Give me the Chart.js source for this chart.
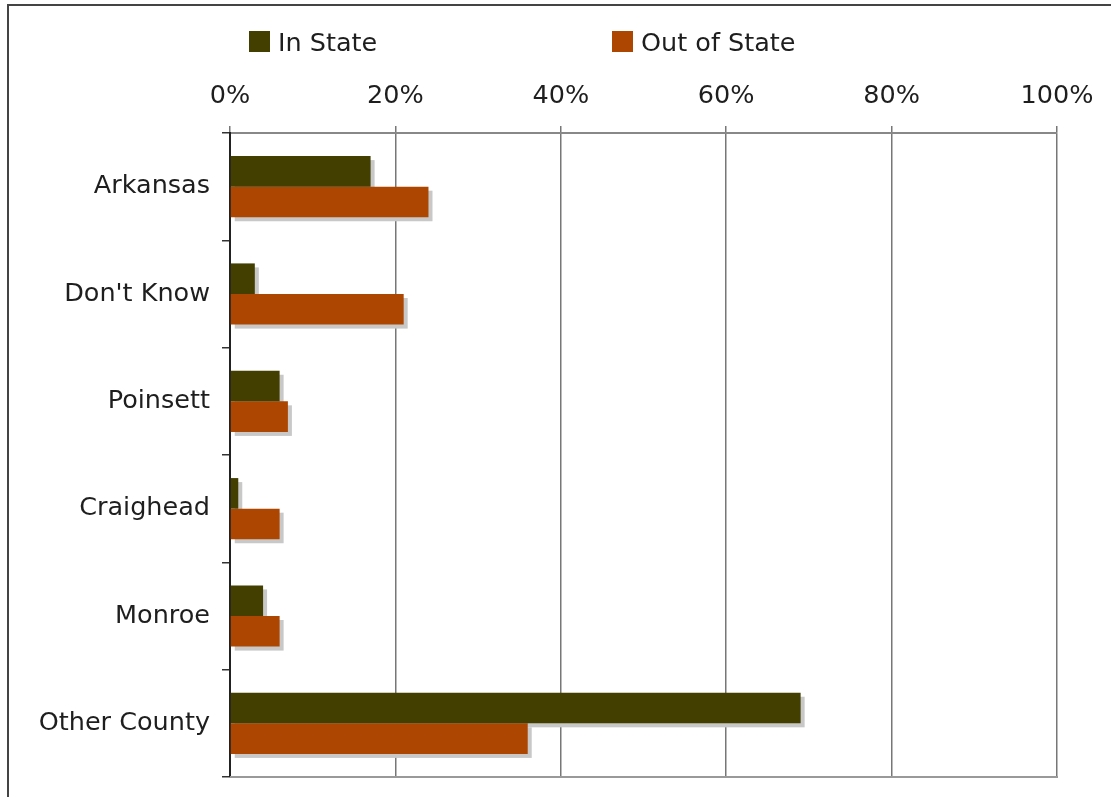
<!DOCTYPE html>
<html>
<head>
<meta charset="utf-8">
<script src="https://cdn.jsdelivr.net/npm/chart.js@4"></script>
<style>
  html, body { margin: 0; padding: 0; background: #fff; overflow: hidden; }
  .wrap { position: relative; width: 1111px; height: 797px; overflow: hidden; }
  .frame { position: absolute; left: 7px; top: 4px; width: 1200px; height: 900px;
           border-left: 2px solid #444; border-top: 2px solid #444; }
  canvas { position: absolute; left: 0; top: 0; }
  .legend { position: absolute; top: 31px; left: 0; font: 25.5px "DejaVu Sans", sans-serif; color: #1e1e1e; }
  .legend .item { position: absolute; display: flex; align-items: center; white-space: nowrap; height: 21px; }
  .legend .box { width: 21px; height: 21px; margin-right: 8px; }
</style>
</head>
<body>
<div class="wrap">
  <div class="frame"></div>
  <canvas id="chart" width="1111" height="797"></canvas>
  <div class="legend" id="legend"></div>
</div>
<script>
const categories = ['Arkansas', "Don't Know", 'Poinsett', 'Craighead', 'Monroe', 'Other County'];
const seriesNames = ['In State', 'Out of State'];
const inState = [17, 3, 6, 1, 4, 69];
const outOfState = [24, 21, 7, 6, 6, 36];
const tickValues = [0, 20, 40, 60, 80, 100];
const tickLabels = ['0%', '20%', '40%', '60%', '80%', '100%'];
const colors = ['#423f00', '#ad4600'];

const font = { family: '"DejaVu Sans", sans-serif', size: 25.5 };

// html legend, spaced like the original
const legendSpots = [249, 612];
const legendEl = document.getElementById('legend');
seriesNames.forEach((name, i) => {
  const item = document.createElement('div');
  item.className = 'item';
  item.style.left = legendSpots[i] + 'px';
  item.innerHTML = '<span class="box" style="background:' + colors[i] + '"></span><span>' + name + '</span>';
  legendEl.appendChild(item);
});

// grey drop shadow under each bar
const barShadow = {
  id: 'barShadow',
  beforeDatasetsDraw(chart) {
    const c = chart.ctx;
    c.save();
    c.fillStyle = '#c8c8c8';
    chart.data.datasets.forEach((ds, i) => {
      chart.getDatasetMeta(i).data.forEach(bar => {
        const left = Math.min(bar.base, bar.x);
        const w = Math.abs(bar.x - bar.base);
        c.fillRect(left + 4, bar.y - bar.height / 2 + 4, w, bar.height);
      });
    });
    c.restore();
  }
};

// bottom edge of the plot
const plotEdge = {
  id: 'plotEdge',
  afterDraw(chart) {
    const a = chart.chartArea;
    const c = chart.ctx;
    c.save();
    c.strokeStyle = '#999';
    c.lineWidth = 2;
    c.beginPath();
    c.moveTo(a.left, a.bottom);
    c.lineTo(a.right + 1, a.bottom);
    c.stroke();
    c.restore();
  }
};

new Chart(document.getElementById('chart'), {
  type: 'bar',
  data: {
    labels: categories,
    datasets: [
      { label: seriesNames[0], data: inState, backgroundColor: colors[0] },
      { label: seriesNames[1], data: outOfState, backgroundColor: colors[1] }
    ]
  },
  options: {
    indexAxis: 'y',
    responsive: false,
    animation: false,
    categoryPercentage: 0.57,
    barPercentage: 1.0,
    layout: { padding: { top: 73, right: 54, bottom: 20, left: 0 } },
    plugins: {
      legend: { display: false },
      tooltip: { enabled: false }
    },
    scales: {
      x: {
        position: 'top',
        min: 0,
        max: 100,
        afterBuildTicks: scale => { scale.ticks = tickValues.map(v => ({ value: v })); },
        afterFit: scale => { scale.height = 60; },
        ticks: {
          font: font,
          color: '#1e1e1e',
          padding: 14,
          callback: (v, i) => tickLabels[i]
        },
        grid: { color: '#777', lineWidth: 1.5, tickLength: 7 },
        border: { color: '#888', width: 2 }
      },
      y: {
        afterFit: scale => {
          scale.width = 230;
          scale.paddingTop = 0;
          scale.paddingBottom = 0;
        },
        ticks: { font: font, color: '#1e1e1e', padding: 12 },
        grid: { offset: true, drawOnChartArea: false, color: '#333', tickLength: 8, lineWidth: 1.5 },
        border: { color: '#222', width: 2 }
      }
    }
  },
  plugins: [barShadow, plotEdge]
});
</script>
</body>
</html>
